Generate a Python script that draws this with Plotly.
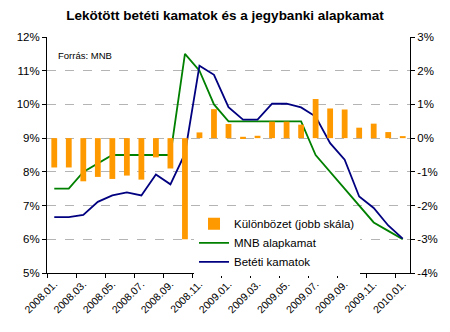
import plotly.graph_objects as go

months = ["2008.01.", "2008.02.", "2008.03.", "2008.04.", "2008.05.", "2008.06.",
          "2008.07.", "2008.08.", "2008.09.", "2008.10.", "2008.11.", "2008.12.",
          "2009.01.", "2009.02.", "2009.03.", "2009.04.", "2009.05.", "2009.06.",
          "2009.07.", "2009.08.", "2009.09.", "2009.10.", "2009.11.", "2009.12.",
          "2010.01."]

kulonbozet = [-0.87, -0.87, -1.28, -1.15, -1.21, -1.11, -1.23, -0.57, -0.90,
              -3.00, 0.17, 0.86, 0.42, 0.04, 0.07, 0.49, 0.49, 0.40,
              1.16, 0.88, 0.85, 0.31, 0.43, 0.18, 0.06]

mnb_alapkamat = [7.5, 7.5, 8.0, 8.25, 8.5, 8.5, 8.5, 8.5, 8.5,
                 11.5, 11.0, 10.0, 9.5, 9.5, 9.5, 9.5, 9.5, 9.5,
                 8.5, 8.0, 7.5, 7.0, 6.5, 6.25, 6.0]

beteti_kamatok = [6.66, 6.66, 6.72, 7.11, 7.30, 7.39, 7.30, 7.92, 7.63,
                  8.54, 11.15, 10.88, 9.92, 9.55, 9.55, 10.02, 10.02, 9.91,
                  9.64, 8.85, 8.36, 7.27, 6.93, 6.41, 6.02]

left_ticks = [5, 6, 7, 8, 9, 10, 11, 12]
right_ticks = [-4, -3, -2, -1, 0, 1, 2, 3]

FONT = "Arial, Liberation Sans, sans-serif"

fig = go.Figure()
fig.add_trace(go.Bar(x=months, y=kulonbozet, name="Különbözet (jobb skála)",
                     marker=dict(color="#FF9900", line=dict(width=0)),
                     yaxis="y2"))
fig.add_trace(go.Scatter(x=months, y=mnb_alapkamat, name="MNB alapkamat",
                         mode="lines", line=dict(color="#008000", width=1.8)))
fig.add_trace(go.Scatter(x=months, y=beteti_kamatok, name="Betéti kamatok",
                         mode="lines", line=dict(color="#000080", width=1.8)))

fig.update_layout(
    width=450, height=332,
    margin=dict(l=47, r=32, t=37, b=59),
    paper_bgcolor="white", plot_bgcolor="white",
    font=dict(family=FONT, size=11, color="black"),
    title=dict(text="<b>Lekötött betéti kamatok és a jegybanki alapkamat</b>",
               x=0.5, xanchor="center", y=0.955, yanchor="middle",
               font=dict(size=13.5, family=FONT, color="black")),
    bargap=0.6,
    showlegend=True,
    legend=dict(x=0.405, y=0.27, xanchor="left", yanchor="top",
                bgcolor="white", borderwidth=0,
                font=dict(size=11.5, family=FONT),
                tracegroupgap=0, itemwidth=30),
    xaxis=dict(type="category", range=[-0.5, len(months) - 0.5],
               tickangle=-45, dtick=2, tickson="boundaries",
               ticks="outside", ticklen=4, tickcolor="black",
               showline=True, linecolor="black", linewidth=1,
               showgrid=False, tickfont=dict(size=10.5)),
    yaxis=dict(range=[5, 12], tickvals=left_ticks,
               ticktext=[f"{v}%" for v in left_ticks],
               ticks="outside", ticklen=4, tickcolor="black",
               showline=True, linecolor="black", linewidth=1,
               showgrid=True, gridcolor="#b4b4b4", griddash="dash", gridwidth=1,
               zeroline=False, tickfont=dict(size=11.5)),
    yaxis2=dict(range=[-4, 3], tickvals=right_ticks,
                ticktext=[f"{v}%" for v in right_ticks],
                overlaying="y", side="right",
                ticks="outside", ticklen=4, tickcolor="black",
                showline=True, linecolor="black", linewidth=1,
                showgrid=False, zeroline=False, tickfont=dict(size=11.5)),
    annotations=[dict(text="Forrás: MNB", x=0.025, y=0.92, xref="paper", yref="paper",
                      xanchor="left", yanchor="middle", showarrow=False,
                      font=dict(size=9.5, family=FONT, color="black"))],
)

fig.write_html("out.html")
